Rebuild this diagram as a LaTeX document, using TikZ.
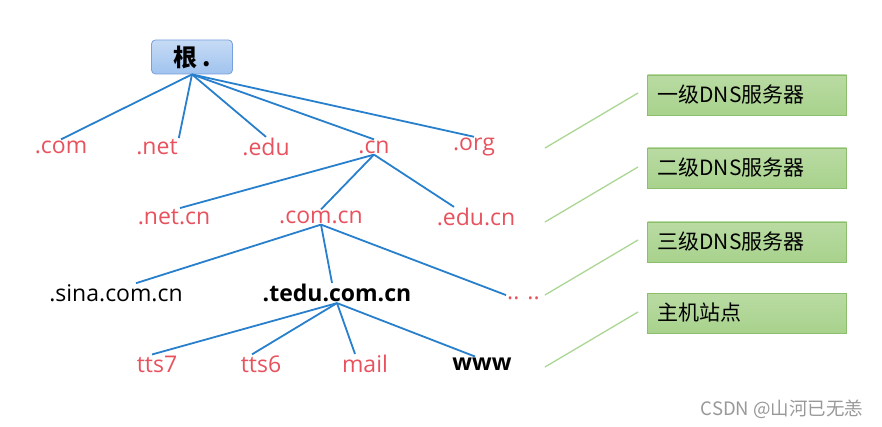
\documentclass[tikz,border=0pt]{standalone}
\usepackage{fontspec}
\setmainfont{Open Sans}
\newfontfamily\cjk{Noto Sans CJK SC}
\usetikzlibrary{positioning}
\definecolor{lineBlue}{RGB}{40,128,205}
\definecolor{nameRed}{RGB}{232,82,94}
\definecolor{boxGreen}{RGB}{168,210,140}
\definecolor{boxGreenDark}{RGB}{140,190,110}
\definecolor{linkGreen}{RGB}{172,214,148}
\definecolor{rootBlue}{RGB}{160,195,238}
\definecolor{rootBorder}{RGB}{120,160,220}

\tikzset{
  zonename/.style={inner sep=1pt, text=nameRed, font=\fontsize{23}{26}\selectfont},
  hostname/.style={inner sep=1pt, text=black, font=\fontsize{23}{26}\selectfont},
  branch/.style={lineBlue, line width=1.8pt},
  levelbox/.style={draw=boxGreenDark, line width=0.8pt, top color=boxGreen!80!white,
    bottom color=boxGreen, minimum height=40pt, text width=179pt, inner xsep=10pt,
    align=left, font=\cjk\fontsize{21}{24}\selectfont},
  levellink/.style={linkGreen, line width=1.3pt}
}

\begin{document}
\begin{tikzpicture}[x=1pt, y=-1pt]
  \useasboundingbox[fill=white] (0,0) rectangle (882,427);
  % Root
  \node[draw=rootBorder, line width=0.8pt, rounded corners=4pt, top color=rootBlue!60!white,
    bottom color=rootBlue, minimum width=81pt, minimum height=34pt, inner sep=0pt,
    font=\cjk\bfseries\fontsize{24}{26}\selectfont] (root) at (192,57) {根\hspace{5pt}.};
  % Level 1
  \node[zonename] (com) at (61,147) {.com};
  \node[zonename] (net) at (157,147) {.net};
  \node[zonename] (edu) at (266,147) {.edu};
  \node[zonename] (cn) at (374,147) {.cn};
  \node[zonename] (org) at (474,147) {.org};
  \foreach \n in {com,edu,cn,org} \draw[branch] (root.south) -- (\n.north);
  \draw[branch] (root.south) -- (net.north east);
  % Level 2
  \node[zonename] (netcn) at (174,217) {.net.cn};
  \node[zonename] (comcn) at (321,217) {.com.cn};
  \node[zonename] (educn) at (476,217) {.edu.cn};
  \draw[branch] (cn.south) -- ([xshift=6pt]netcn.north);
  \draw[branch] (cn.south) -- (comcn.north);
  \draw[branch] (cn.south) -- ([xshift=-22pt]educn.north);
  % Level 3
  \node[hostname] (sina) at (116,293) {.sina.com.cn};
  \node[hostname, font=\bfseries\fontsize{23}{26}\selectfont] (tedu) at (337,293) {.tedu.com.cn};
  \node[zonename, anchor=base west] (more) at (506,299) {.. ..};
  \draw[branch] (comcn.south) -- (more.north west);
  \draw[branch] (comcn.south) -- ([xshift=20pt]sina.north);
  \draw[branch] (comcn.south) -- ([xshift=-5pt]tedu.north);
  % Level 4
  \node[zonename] (tts7) at (157,364) {tts7};
  \node[zonename] (tts6) at (261,364) {tts6};
  \node[zonename] (mail) at (365,364) {mail};
  \node[hostname, font=\bfseries\fontsize{23}{26}\selectfont] (www) at (482,364) {www};
  \foreach \n/\s in {tts7/-5,tts6/-9,mail/-10,www/-7}
    \draw[branch] (tedu.south) -- ([xshift=\s pt]\n.north);
  % Level boxes
  \node[levelbox] (lv1) at (747,95) {一级DNS服务器};
  \node[levelbox] (lv2) at (747,168) {二级DNS服务器};
  \node[levelbox] (lv3) at (747,242) {三级DNS服务器};
  \node[levelbox] (lv4) at (747,313) {主机站点};
  % Links to the boxes
  \foreach \i/\a/\b in {1/148/93, 2/222/167, 3/295/240, 4/367/312} {
    \coordinate (p\i) at (545,\a);
    \coordinate (q\i) at (638,\b);
    \draw[levellink] (p\i) -- (q\i);
  }
  % Watermark
  \node[text=black!40, font=\cjk\fontsize{18.5}{20}\selectfont] (mark) at (782,409) {CSDN @山河已无恙};
\end{tikzpicture}
\end{document}
